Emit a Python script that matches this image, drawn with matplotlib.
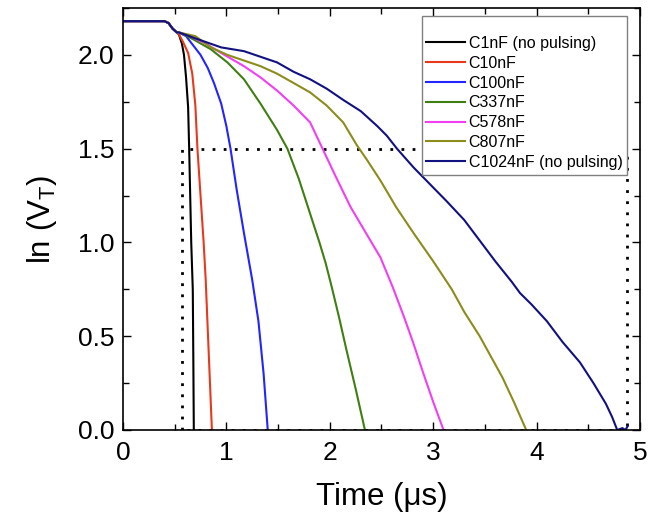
import matplotlib
matplotlib.use("Agg")
import matplotlib.pyplot as plt
from matplotlib.ticker import MultipleLocator, FormatStrFormatter

plt.rcParams['font.family'] = ['Liberation Sans', 'DejaVu Sans']
plt.rcParams['mathtext.default'] = 'regular'

# shared start of all traces
t_start = [0.0, 0.40, 0.44, 0.48, 0.52]
v_start = [2.18, 2.18, 2.17, 2.14, 2.12]

t_c1 = [0.54, 0.57, 0.59, 0.61, 0.63, 0.64, 0.65, 0.66, 0.675, 0.68, 0.685]
v_c1 = [2.11, 2.06, 2.00, 1.88, 1.72, 1.50, 1.25, 1.00, 0.75, 0.40, 0.0]

t_c10 = [0.54, 0.58, 0.63, 0.67, 0.70, 0.72, 0.75, 0.78, 0.80, 0.83, 0.86]
v_c10 = [2.11, 2.07, 2.01, 1.90, 1.73, 1.50, 1.25, 1.00, 0.80, 0.40, 0.0]

t_c100 = [0.54, 0.61, 0.68, 0.75, 0.82, 0.88, 0.95, 1.00, 1.04, 1.10, 1.17, 1.25, 1.31, 1.36, 1.40]
v_c100 = [2.12, 2.10, 2.05, 2.00, 1.93, 1.85, 1.74, 1.62, 1.50, 1.28, 1.05, 0.80, 0.58, 0.30, 0.0]

t_c337 = [0.54, 0.62, 0.69, 0.85, 1.01, 1.17, 1.33, 1.49, 1.59, 1.70, 1.80, 1.90, 1.96, 2.02, 2.09, 2.16, 2.25, 2.34]
v_c337 = [2.12, 2.10, 2.08, 2.03, 1.96, 1.87, 1.74, 1.60, 1.50, 1.34, 1.17, 1.00, 0.89, 0.76, 0.60, 0.43, 0.22, 0.0]

t_c578 = [0.54, 0.65, 0.80, 0.95, 1.17, 1.33, 1.49, 1.65, 1.81, 1.93, 2.05, 2.20, 2.35, 2.49, 2.61, 2.72, 2.81, 2.90, 3.00, 3.10]
v_c578 = [2.12, 2.10, 2.06, 2.01, 1.94, 1.88, 1.81, 1.73, 1.64, 1.50, 1.36, 1.19, 1.05, 0.92, 0.76, 0.60, 0.46, 0.31, 0.15, 0.0]

t_c807 = [0.54, 0.70, 0.85, 1.01, 1.17, 1.33, 1.49, 1.65, 1.81, 1.97, 2.13, 2.26, 2.36, 2.49, 2.64, 2.81, 3.00, 3.18, 3.30, 3.45, 3.57, 3.67, 3.78, 3.90]
v_c807 = [2.12, 2.10, 2.04, 2.00, 1.97, 1.94, 1.90, 1.85, 1.80, 1.73, 1.64, 1.52, 1.44, 1.33, 1.19, 1.05, 0.90, 0.75, 0.63, 0.50, 0.38, 0.28, 0.15, 0.0]

t_c1024 = [0.54, 0.69, 0.95, 1.17, 1.33, 1.49, 1.65, 1.81, 1.97, 2.13, 2.30, 2.46, 2.55, 2.65, 2.81, 2.97, 3.13, 3.30, 3.45, 3.60, 3.76, 3.84, 3.95, 4.10, 4.25, 4.42, 4.55, 4.67, 4.73, 4.78, 4.83, 4.86, 4.88]
v_c1024 = [2.12, 2.09, 2.04, 2.02, 1.99, 1.96, 1.91, 1.87, 1.82, 1.76, 1.70, 1.62, 1.57, 1.50, 1.40, 1.31, 1.22, 1.12, 1.01, 0.90, 0.79, 0.73, 0.67, 0.58, 0.47, 0.36, 0.25, 0.14, 0.07, 0.0, 0.01, 0.0, 0.02]

labels = ["C1nF (no pulsing)", "C10nF", "C100nF", "C337nF", "C578nF", "C807nF", "C1024nF (no pulsing)"]
colors = ["#000000", "#e8391d", "#2424ff", "#3f7f12", "#f23ff2", "#8c8c1c", "#111180"]
series_t = [t_c1, t_c10, t_c100, t_c337, t_c578, t_c807, t_c1024]
series_v = [v_c1, v_c10, v_c100, v_c337, v_c578, v_c807, v_c1024]

# dotted guide box
box_t = [0.57, 0.57, 4.87, 4.87, 0.57]
box_v = [0.0, 1.5, 1.5, 0.0, 0.0]

fig = plt.figure(figsize=(6.49, 5.24), dpi=100)
ax = fig.add_axes([0.1895, 0.1794, 0.7966, 0.8053])

ax.plot(box_t, box_v, color='black', linestyle=(0, (1, 3)), lw=2.0, zorder=1)

for t, v, c, lab in zip(series_t, series_v, colors, labels):
    ax.plot(t_start + t, v_start + v, color=c, lw=1.5, label=lab, zorder=2)

ax.set_xlim(0, 5)
ax.set_ylim(0, 2.25)
ax.xaxis.set_major_locator(MultipleLocator(1))
ax.xaxis.set_minor_locator(MultipleLocator(0.5))
ax.yaxis.set_major_locator(MultipleLocator(0.5))
ax.yaxis.set_minor_locator(MultipleLocator(0.25))
ax.yaxis.set_major_formatter(FormatStrFormatter('%.1f'))
ax.tick_params(which='both', direction='in', top=True, right=True, labelsize=19, width=1)
ax.tick_params(which='major', length=6)
ax.tick_params(which='minor', length=4)
ax.tick_params(axis='x', which='major', pad=8)
ax.tick_params(axis='y', which='major', pad=6)
for s in ax.spines.values():
    s.set_linewidth(1.2)

ax.set_xlabel("Time (μs)", fontsize=22.5, labelpad=12)
ax.set_ylabel("ln (V$_{T}$)", fontsize=22.5, labelpad=14)

leg = ax.legend(loc='upper right', bbox_to_anchor=(0.9755, 0.98), fontsize=11.5,
                frameon=True, fancybox=False, edgecolor='#808080', framealpha=1,
                borderaxespad=0, handlelength=2.4, labelspacing=0.3, handletextpad=0.25,
                borderpad=0.3, title=" ", title_fontsize=8)
leg.get_frame().set_linewidth(1.0)

fig.savefig("out.png", dpi=100)
